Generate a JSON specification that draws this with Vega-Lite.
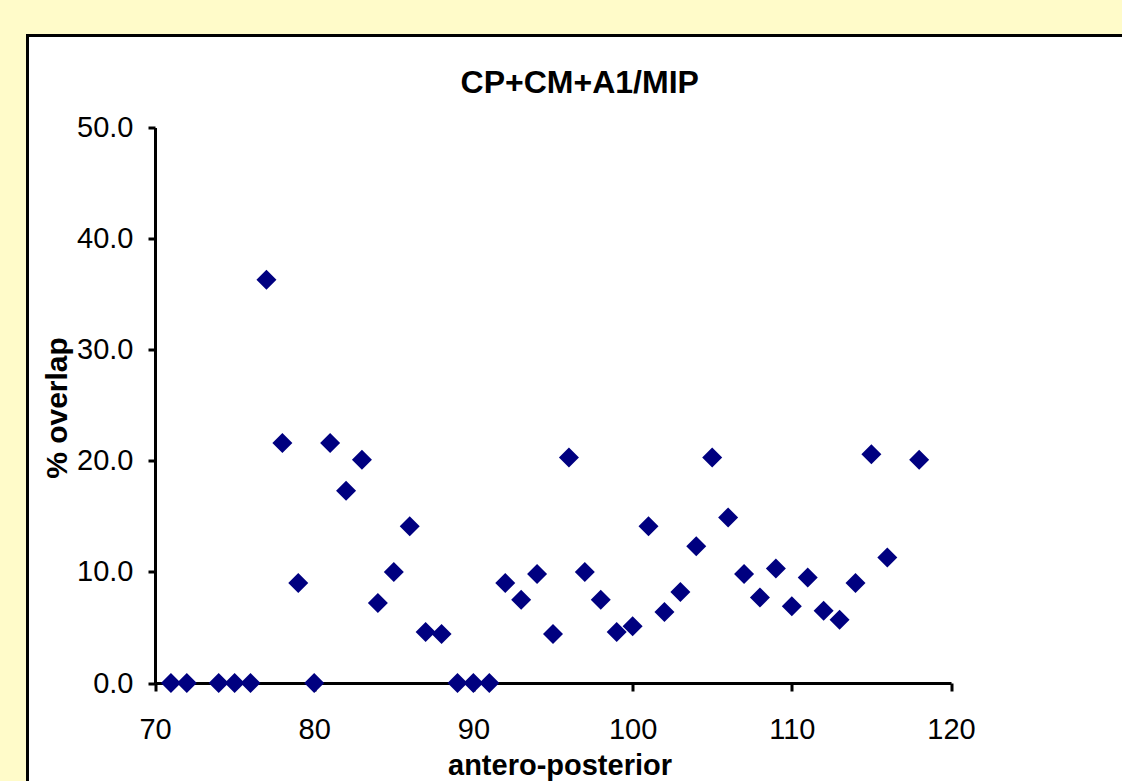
{
  "$schema": "https://vega.github.io/schema/vega-lite/v6.json",
  "autosize": "none",
  "width": 1104.5,
  "height": 755.5,
  "padding": {"left": 27.5, "top": 35.5, "right": -10, "bottom": -10},
  "background": "#FFFBC9",
  "config": {
    "view": {"stroke": "#000000", "strokeWidth": 3, "fill": "#FFFFFF"},
    "font": "Liberation Sans"
  },
  "title": {
    "text": "CP+CM+A1/MIP",
    "font": "Liberation Sans",
    "fontSize": 32,
    "fontWeight": "bold",
    "color": "#000000",
    "anchor": "middle",
    "frame": "group",
    "baseline": "alphabetic",
    "offset": 0,
    "dy": 89
  },
  "data": {
    "values": [
      {"ap": 71, "overlap": 0},
      {"ap": 72, "overlap": 0},
      {"ap": 74, "overlap": 0},
      {"ap": 75, "overlap": 0},
      {"ap": 76, "overlap": 0},
      {"ap": 77, "overlap": 36.3},
      {"ap": 78, "overlap": 21.6},
      {"ap": 79, "overlap": 9.0},
      {"ap": 80, "overlap": 0},
      {"ap": 81, "overlap": 21.6},
      {"ap": 82, "overlap": 17.3},
      {"ap": 83, "overlap": 20.1},
      {"ap": 84, "overlap": 7.2},
      {"ap": 85, "overlap": 10.0},
      {"ap": 86, "overlap": 14.1},
      {"ap": 87, "overlap": 4.6},
      {"ap": 88, "overlap": 4.4},
      {"ap": 89, "overlap": 0},
      {"ap": 90, "overlap": 0},
      {"ap": 91, "overlap": 0},
      {"ap": 92, "overlap": 9.0},
      {"ap": 93, "overlap": 7.5},
      {"ap": 94, "overlap": 9.8},
      {"ap": 95, "overlap": 4.4},
      {"ap": 96, "overlap": 20.3},
      {"ap": 97, "overlap": 10.0},
      {"ap": 98, "overlap": 7.5},
      {"ap": 99, "overlap": 4.6},
      {"ap": 100, "overlap": 5.1},
      {"ap": 101, "overlap": 14.1},
      {"ap": 102, "overlap": 6.4},
      {"ap": 103, "overlap": 8.2},
      {"ap": 104, "overlap": 12.3},
      {"ap": 105, "overlap": 20.3},
      {"ap": 106, "overlap": 14.9},
      {"ap": 107, "overlap": 9.8},
      {"ap": 108, "overlap": 7.7},
      {"ap": 109, "overlap": 10.3},
      {"ap": 110, "overlap": 6.9},
      {"ap": 111, "overlap": 9.5},
      {"ap": 112, "overlap": 6.5},
      {"ap": 113, "overlap": 5.7},
      {"ap": 114, "overlap": 9.0},
      {"ap": 115, "overlap": 20.6},
      {"ap": 116, "overlap": 11.3},
      {"ap": 118, "overlap": 20.1}
    ]
  },
  "mark": {
    "type": "point",
    "shape": "diamond",
    "filled": true,
    "color": "#000080",
    "size": 400,
    "opacity": 1,
    "strokeWidth": 0,
    "clip": false
  },
  "encoding": {
    "x": {
      "field": "ap",
      "type": "quantitative",
      "title": "antero-posterior",
      "scale": {"domain": [70, 120], "range": [127.5, 923.5], "nice": false, "zero": false},
      "axis": {
        "values": [70, 80, 90, 100, 110, 120],
        "offset": -108,
        "grid": false,
        "domainColor": "#000000",
        "domainWidth": 3,
        "tickColor": "#000000",
        "tickWidth": 3,
        "tickSize": 8,
        "labelFont": "Liberation Sans",
        "labelFontSize": 29,
        "labelColor": "#000000",
        "labelPadding": 24,
        "labelFlush": false,
        "labelOverlap": false,
        "titleFont": "Liberation Sans",
        "titleFontSize": 29,
        "titleFontWeight": "bold",
        "titleColor": "#000000",
        "titleBaseline": "alphabetic",
        "titleAlign": "center",
        "titleX": 532,
        "titleY": 91
      }
    },
    "y": {
      "field": "overlap",
      "type": "quantitative",
      "title": "% overlap",
      "scale": {"domain": [0, 50], "range": [647.5, 92], "nice": false},
      "axis": {
        "values": [0, 10, 20, 30, 40, 50],
        "format": ".1f",
        "offset": -127.5,
        "grid": false,
        "domainColor": "#000000",
        "domainWidth": 3,
        "tickColor": "#000000",
        "tickWidth": 3,
        "tickSize": 7,
        "labelFont": "Liberation Sans",
        "labelFontSize": 29,
        "labelColor": "#000000",
        "labelPadding": 15,
        "labelFlush": false,
        "labelOverlap": false,
        "titleFont": "Liberation Sans",
        "titleFontSize": 30,
        "titleFontWeight": "bold",
        "titleColor": "#000000",
        "titleAngle": -90,
        "titleBaseline": "alphabetic",
        "titleAlign": "center",
        "titleX": -89,
        "titleY": 372
      }
    }
  }
}
